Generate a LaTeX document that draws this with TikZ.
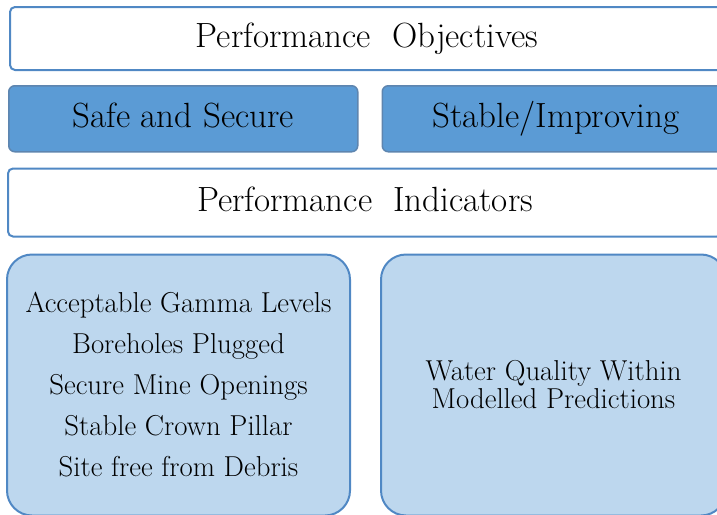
\documentclass[tikz,border=0pt]{standalone}
\usetikzlibrary{positioning}

\definecolor{edgeblue}{HTML}{5088C4}
\definecolor{midblue}{HTML}{5B9BD5}
\definecolor{paleblue}{HTML}{BDD7EE}

\tikzset{
    titlebox/.style={rectangle, rounded corners=5pt, draw=edgeblue, line width=2pt, fill=white,
        text height=25pt, text depth=8pt, font=\fontsize{35}{42}\selectfont},
    goalbox/.style={rectangle, rounded corners=6pt, draw=edgeblue!70!gray, line width=1.5pt, fill=midblue,
        text height=25pt, text depth=8pt, font=\fontsize{35}{42}\selectfont},
    listbox/.style={rectangle, rounded corners=25pt, draw=edgeblue, line width=2pt, fill=paleblue,
        align=center, font=\fontsize{28.8}{41}\selectfont}
}

\begin{document}
\begin{tikzpicture}[x=1pt, y=1pt]
    \useasboundingbox (0,0) rectangle (717,-514);
    \clip (0,0) rectangle (717,-514);

    \node (obj) [titlebox, minimum width=714pt, minimum height=63pt] at (367,-38.5) {Performance\ \ Objectives};
    \node (safe) [goalbox, minimum width=349pt, minimum height=66pt, below right=14pt and -1pt of obj.south west] {Safe\ and\ Secure};
    \node (stable) [goalbox, minimum width=347pt, minimum height=66pt, right=23pt of safe] {Stable/Improving};
    \node (ind) [titlebox, minimum width=714pt, minimum height=68pt, below right=15pt and -1pt of safe.south west] {Performance\ \ Indicators};

    \node (lft) [listbox, minimum width=343pt, minimum height=261pt, below right=16pt and -1pt of ind.south west]
        {Acceptable Gamma Levels\\Boreholes Plugged\\Secure Mine Openings\\Stable Crown Pillar\\Site free from Debris};
    \node (rgt) [listbox, minimum width=345pt, minimum height=261pt, right=29pt of lft,
        font=\fontsize{28.8}{28}\selectfont] {Water Quality Within\\Modelled Predictions};
\end{tikzpicture}
\end{document}
